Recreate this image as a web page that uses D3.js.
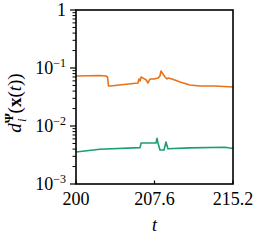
<!DOCTYPE html>
<html><head><meta charset="utf-8">
<script src="https://cdn.jsdelivr.net/npm/d3@7"></script>
<style>
html,body{margin:0;padding:0;background:#fff;}
</style></head>
<body><svg id="c" width="255" height="240"></svg>
<script>
// Data
const tOrange = [200, 202.3, 202.9, 203.05, 203.15, 203.3, 206.0, 206.1, 206.2, 206.3, 206.5, 206.8, 206.97, 207.16, 207.55, 207.94, 208.13, 208.23, 208.42, 208.62, 208.81, 208.9, 209.3, 210.07, 211.04, 212.0, 213.46, 215.2];
const vOrange = [0.0728, 0.0743, 0.0728, 0.070, 0.049, 0.049, 0.0551, 0.0646, 0.0597, 0.070, 0.067, 0.0621, 0.0551, 0.0646, 0.0646, 0.067, 0.0728, 0.0888, 0.0788, 0.070, 0.0646, 0.067, 0.0646, 0.0574, 0.0509, 0.049, 0.049, 0.047];
const tGreen = [200, 202.3, 206.2, 206.3, 207.75, 207.84, 207.94, 208.13, 208.52, 208.71, 208.9, 211.0, 214.42, 215.2];
const vGreen = [0.00356, 0.00397, 0.00423, 0.00509, 0.00509, 0.00614, 0.00509, 0.00386, 0.00386, 0.0053, 0.00406, 0.0042, 0.0043, 0.00409];
const xTicks = [200, 207.6, 215.2];
const xTickLabels = ["200", "207.6", "215.2"];
const yTicks = [1, 0.1, 0.01, 0.001];
const yTickExps = [null, "\u22121", "\u22122", "\u22123"];

const FONT = "'Liberation Serif'";
const svg = d3.select("#c");
const L = 76, R = 233, T = 10, B = 184;
const x = d3.scaleLinear().domain([200, 215.2]).range([L, R]);
const y = d3.scaleLog().domain([1e-3, 1]).range([B, T]);

const line = d3.line().x(d => x(d[0])).y(d => y(d[1]));
svg.append("path").datum(tOrange.map((t, i) => [t, vOrange[i]]))
  .attr("d", line).attr("fill", "none").attr("stroke", "#e8711a").attr("stroke-width", 1.6).attr("stroke-linejoin", "round");
svg.append("path").datum(tGreen.map((t, i) => [t, vGreen[i]]))
  .attr("d", line).attr("fill", "none").attr("stroke", "#1b9e77").attr("stroke-width", 1.6).attr("stroke-linejoin", "round");

// minor ticks on y
const minor = [];
for (let e = -3; e < 0; e++) for (let k = 2; k <= 9; k++) minor.push(k * Math.pow(10, e));
svg.selectAll(".mn").data(minor).enter().append("line")
  .attr("x1", L - 3.5).attr("x2", L).attr("y1", d => y(d)).attr("y2", d => y(d))
  .attr("stroke", "#000").attr("stroke-width", 1);
svg.selectAll(".mj").data(yTicks).enter().append("line")
  .attr("x1", L - 6).attr("x2", L).attr("y1", d => y(d)).attr("y2", d => y(d))
  .attr("stroke", "#000").attr("stroke-width", 1.2);

// y tick labels
yTicks.forEach((v, i) => {
  const t = svg.append("text").attr("x", 66).attr("y", y(v)).attr("dy", "0.33em")
    .attr("text-anchor", "end").attr("font-size", 18).style("font-family", FONT);
  if (yTickExps[i] === null) { t.text("1"); }
  else {
    t.append("tspan").text("10");
    t.append("tspan").attr("font-size", 12).attr("dy", -7).text(yTickExps[i]);
  }
});

// x ticks (inward)
svg.selectAll(".xt").data(xTicks).enter().append("line")
  .attr("x1", d => x(d)).attr("x2", d => x(d)).attr("y1", B).attr("y2", B - 3.5)
  .attr("stroke", "#000").attr("stroke-width", 1.2);
svg.selectAll(".xl").data(xTicks).enter().append("text")
  .attr("x", d => x(d)).attr("y", 205).attr("text-anchor", "middle").attr("font-size", 18)
  .style("font-family", FONT)
  .text((d, i) => xTickLabels[i]);

// frame
svg.append("rect").attr("x", L).attr("y", T).attr("width", R - L).attr("height", B - T)
  .attr("fill", "none").attr("stroke", "#000").attr("stroke-width", 1.6);

// x label
svg.append("text").attr("x", (L + R) / 2).attr("y", 231).attr("text-anchor", "middle")
  .attr("font-size", 18).attr("font-style", "italic").style("font-family", FONT).text("t");

// y label
const g = svg.append("g").attr("transform", "translate(21,103) rotate(-90)");
const yl = g.append("text").attr("text-anchor", "middle").attr("font-size", 19).style("font-family", FONT);
yl.append("tspan").attr("font-style", "italic").text("d");
yl.append("tspan").attr("font-size", 13).attr("font-weight", "bold").attr("dy", -8).text("\u03A8");
yl.append("tspan").attr("font-size", 13).attr("font-style", "italic").attr("dx", -9).attr("dy", 13).text("i");
yl.append("tspan").attr("dx", 5).attr("dy", -5).text("(");
yl.append("tspan").attr("font-weight", "bold").text("x");
yl.append("tspan").text("(");
yl.append("tspan").attr("font-style", "italic").text("t");
yl.append("tspan").text("))");
</script></body></html>
